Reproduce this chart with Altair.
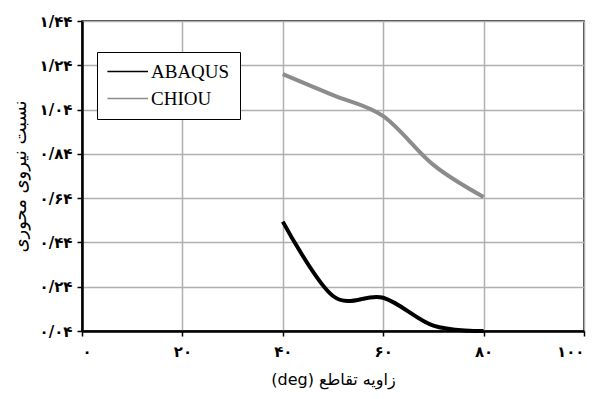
import altair as alt
import pandas as pd

angles = [40, 50, 60, 70, 80]
abaqus = [0.534, 0.198, 0.19, 0.064, 0.04]
chiou = [1.20, 1.105, 1.01, 0.79, 0.645]
series_names = ["ABAQUS", "CHIOU"]
series_colors = ["#000000", "#8c8c8c"]

x_ticks = [0, 20, 40, 60, 80, 100]
x_tick_labels = ["۰", "۲۰", "۴۰", "۶۰", "۸۰", "۱۰۰"]
y_ticks = [0.04, 0.24, 0.44, 0.64, 0.84, 1.04, 1.24, 1.44]
y_tick_labels = ["۰/۰۴", "۰/۲۴", "۰/۴۴", "۰/۶۴", "۰/۸۴", "۱/۰۴", "۱/۲۴", "۱/۴۴"]

x_title = "\u202bزاویه تقاطع (deg)\u202c"
y_title = "نسبت نیروی محوری"

rows = []
for a, v in zip(angles, abaqus):
    rows.append({"angle": a, "value": v, "series": "ABAQUS"})
for a, v in zip(angles, chiou):
    rows.append({"angle": a, "value": v, "series": "CHIOU"})
df = pd.DataFrame(rows)

x_expr = "[" + ",".join(f"'{l}'" for l in x_tick_labels) + "][round(datum.value/20)]"
y_expr = "[" + ",".join(f"'{l}'" for l in y_tick_labels) + "][round((datum.value-0.04)/0.2)]"

chart = alt.Chart(df).mark_line(strokeWidth=4, interpolate="cardinal").encode(
    x=alt.X("angle:Q",
            scale=alt.Scale(domain=[0, 100], nice=False, zero=False),
            axis=alt.Axis(values=x_ticks, labelExpr=x_expr, title=x_title,
                          titleFontSize=16, titleFontWeight="normal",
                          titlePadding=12, labelPadding=8)),
    y=alt.Y("value:Q",
            scale=alt.Scale(domain=[0.04, 1.44], nice=False, zero=False),
            axis=alt.Axis(values=y_ticks, labelExpr=y_expr, title=y_title,
                          titleFontSize=18, titleFontWeight="normal",
                          titlePadding=10, labelPadding=5)),
    color=alt.Color("series:N",
                    scale=alt.Scale(domain=series_names, range=series_colors),
                    legend=alt.Legend(orient="none", legendX=15, legendY=31,
                                      title=None, symbolType="M-1.3,0H4.5",
                                      symbolStrokeWidth=1.5, symbolSize=196,
                                      labelFont="Liberation Serif", labelFontSize=19,
                                      labelColor="black", labelOffset=25,
                                      strokeColor="black", fillColor="white",
                                      padding=10, rowPadding=7)),
).properties(
    width=502, height=310,
    autosize=alt.AutoSizeParams(type="none"),
    padding={"left": 82, "top": 21, "right": 13, "bottom": 68},
).configure_view(
    stroke="black", strokeWidth=1.5
).configure_axis(
    domainColor="black", domainWidth=2.5,
    tickColor="black", tickSize=5, tickWidth=1.5,
    gridColor="#b0b0b0", gridWidth=1.5,
    labelFont="DejaVu Sans", labelFontSize=15, labelFontWeight="bold",
    labelColor="black",
    titleFont="DejaVu Sans", titleColor="black",
)

chart.save("out.html", embed_options={"renderer": "svg", "actions": False})
